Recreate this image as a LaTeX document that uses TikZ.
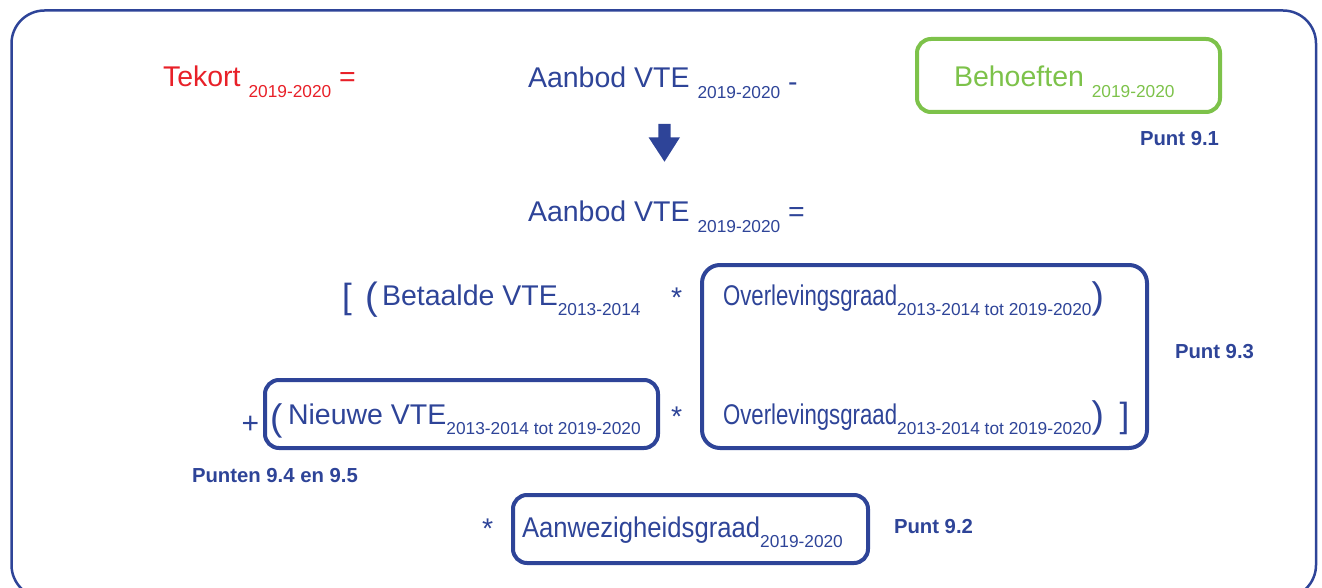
\documentclass[tikz,border=0pt]{standalone}
\usepackage{fontspec}
\setmainfont{Liberation Sans}
\newfontfamily\condA[FakeStretch=0.78]{Liberation Sans}
\newfontfamily\condB[FakeStretch=0.9]{Liberation Sans}
\definecolor{blu}{RGB}{46,68,152}
\definecolor{rd}{RGB}{232,32,40}
\definecolor{grn}{RGB}{125,194,74}
\newcommand\subtxt[1]{\raisebox{-10.5pt}{\normalfont\fontsize{17.3}{18}\selectfont #1}}
\newcommand\bigpar[2]{\raisebox{-3.5pt}{\normalfont\fontsize{#1}{#1}\selectfont #2}}
\tikzset{
  txt/.style={inner sep=0pt, outer sep=0pt, anchor=base west, text=blu, font=\fontsize{28.5}{30}\selectfont},
  lbl/.style={inner sep=0pt, outer sep=0pt, anchor=base west, text=blu, font=\bfseries\fontsize{20.3}{22}\selectfont},
  fbox/.style={draw=blu, line width=4pt, rounded corners=14pt, inner sep=0pt, outer sep=0pt},
}
\begin{document}
\begin{tikzpicture}[x=1pt,y=-1pt]
\useasboundingbox (0,0) rectangle (1322,588);
\begin{scope}
\clip (0,0) rectangle (1322,588);
\draw[blu, line width=2.5pt, rounded corners=33pt] (11.5,10.5) rectangle (1316,598);
\end{scope}
% line 1
\node[txt, text=rd] (tekort) at (163,87) {Tekort\ \subtxt{2019-2020}\ =};
\node[txt] (aanbod1) at (528,88) {Aanbod VTE\ \subtxt{2019-2020}\ \raisebox{-4pt}{-}};
\node[fbox, draw=grn, minimum width=303pt, minimum height=73pt] (behbox) at (1068.5,75.5) {};
\node[txt, text=grn] (beh) at (954,87) {Behoeften\ \subtxt{2019-2020}};
\node[lbl, anchor=base east] (p91) at (1219,145.5) {Punt 9.1};
% arrow
\fill[blu] (658.3,124) -- (670.7,124) -- (670.7,137.3) -- (680,137.3) -- (664.5,161.7) -- (648.5,137.3) -- (658.3,137.3) -- cycle;
% line 2
\node[txt] (aanbod2) at (528,222) {Aanbod VTE\ \subtxt{2019-2020}\ =};
% row 1
\node[txt, font=\fontsize{35}{36}\selectfont] (brk1) at (342,308.5) {[};
\node[txt, font=\fontsize{38}{40}\selectfont] (par1) at (365,309.7) {(};
\node[txt] (betaalde) at (382,305) {Betaalde VTE\subtxt{2013-2014}};
\node[txt] (star1) at (671,307) {*};
\node[fbox, rounded corners=18pt, minimum width=445pt, minimum height=183pt] (bigbox) at (924.5,356.5) {};
\node[txt, font=\condA\fontsize{28.5}{30}\selectfont] (ov1) at (723,305) {Overlevingsgraad\subtxt{2013-2014 tot 2019-2020}\bigpar{37}{)}};
\node[lbl] (p93) at (1175,358) {Punt 9.3};
% row 2
\node[txt, font=\fontsize{30}{32}\selectfont] (plus) at (241.5,433) {+};
\node[fbox, minimum width=393pt, minimum height=68pt] (nbox) at (461.5,414) {};
\node[txt, font=\fontsize{37}{38}\selectfont] (par2) at (270,430.5) {(};
\node[txt] (nieuwe) at (288,424) {Nieuwe VTE\subtxt{2013-2014 tot 2019-2020}};
\node[txt] (star2) at (671,426) {*};
\node[txt, font=\condA\fontsize{28.5}{30}\selectfont] (ov2) at (723,424) {Overlevingsgraad\subtxt{2013-2014 tot 2019-2020}\bigpar{37}{)}};
\node[txt, font=\fontsize{35}{36}\selectfont] (brk2) at (1119.5,427) {]};
\node[lbl] (p945) at (192,482) {Punten 9.4 en 9.5};
% row 3
\node[txt] (star3) at (482,538.5) {*};
\node[fbox, minimum width=355pt, minimum height=68pt] (abox) at (690.5,529) {};
\node[txt, font=\condB\fontsize{28.5}{30}\selectfont] (aanw) at (522,537) {Aanwezigheidsgraad\subtxt{2019-2020}};
\node[lbl] (p92) at (894,533) {Punt 9.2};
\end{tikzpicture}
\end{document}
